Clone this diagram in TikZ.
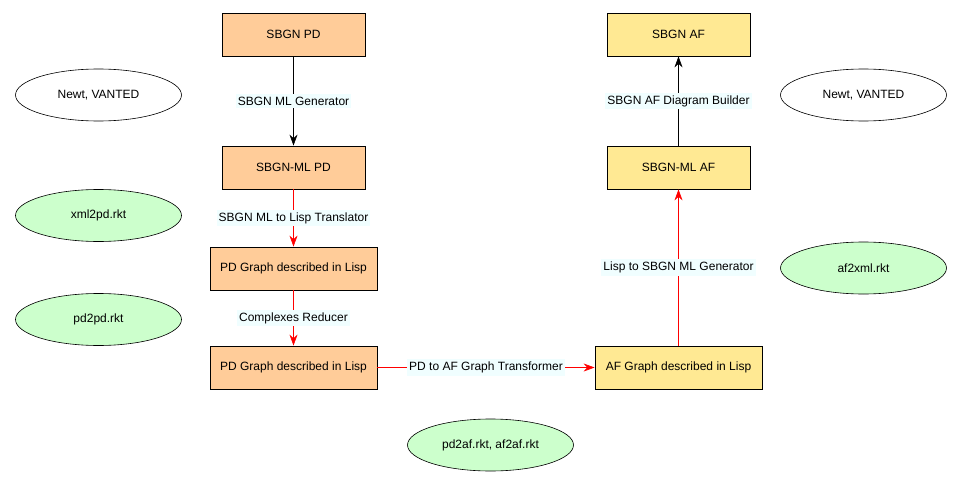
\documentclass[tikz,border=0pt]{standalone}
\usepackage{fontspec}
\setmainfont{Liberation Sans}
\usetikzlibrary{arrows.meta,shapes.geometric}

\definecolor{pdfill}{HTML}{FFCC99}
\definecolor{affill}{HTML}{FFE993}
\definecolor{toolfill}{HTML}{CCFFCC}
\definecolor{labelfill}{HTML}{F0FEFF}

\begin{document}
\begin{tikzpicture}[x=1pt, y=-1pt, font=\fontsize{12}{14}\selectfont,
    pd/.style = {draw, fill=pdfill, minimum width=143pt, minimum height=43pt, line width=0.8pt},
    af/.style = {draw, fill=affill, minimum width=143pt, minimum height=43pt, line width=0.8pt},
    tool/.style = {draw, ellipse, fill=toolfill, minimum width=166pt, minimum height=52pt, line width=0.6pt},
    ext/.style = {tool, fill=white},
    lbl/.style = {fill=labelfill, text=black, inner xsep=2pt, inner ysep=2.5pt},
    flow/.style = {-{Stealth[length=11pt,width=8pt]}, line width=0.7pt},
    lisp/.style = {flow, red}]
    \useasboundingbox (0,0) rectangle (961,487);

    \node[pd] (pd) at (293.5,34.5) {SBGN PD};
    \node[pd] (pdml) at (293.5,167.5) {SBGN-ML PD};
    \node[pd, minimum width=167pt] (pdlisp) at (293.5,268.5) {PD Graph described in Lisp};
    \node[pd, minimum width=167pt] (pdred) at (293.5,367.5) {PD Graph described in Lisp};

    \node[af, minimum width=167pt] (aflisp) at (678.5,367.5) {AF Graph described in Lisp};
    \node[af] (afml) at (678.5,167.5) {SBGN-ML AF};
    \node[af] (af) at (678.5,34.5) {SBGN AF};

    \node[ext] (newtl) at (98.5,95) {Newt, VANTED};
    \node[tool] (xml2pd) at (98.5,215.5) {xml2pd.rkt};
    \node[tool] (pd2pd) at (98.5,319.5) {pd2pd.rkt};
    \node[tool] (pd2af) at (490.5,445) {pd2af.rkt, af2af.rkt};
    \node[tool] (af2xml) at (863.5,268) {af2xml.rkt};
    \node[ext] (newtr) at (863.5,95) {Newt, VANTED};

    \draw[flow] (pd) -- node[lbl] {SBGN ML Generator} (pdml);
    \draw[lisp] (pdml) -- node[lbl] {SBGN ML to Lisp Translator} (pdlisp);
    \draw[lisp] (pdlisp) -- node[lbl] {Complexes Reducer} (pdred);
    \draw[lisp] (pdred) -- node[lbl] {PD to AF Graph Transformer} (aflisp);
    \draw[lisp] (aflisp) -- node[lbl] {Lisp to SBGN ML Generator} (afml);
    \draw[flow] (afml) -- node[lbl] {SBGN AF Diagram Builder} (af);
\end{tikzpicture}
\end{document}
